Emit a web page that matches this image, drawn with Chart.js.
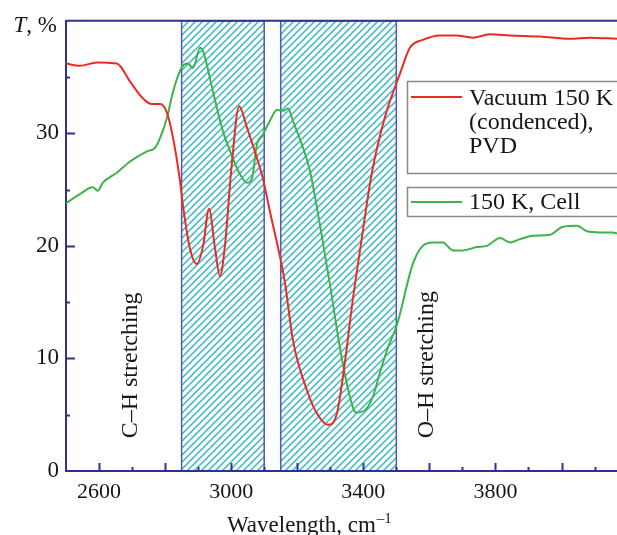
<!DOCTYPE html>
<html><head><meta charset="utf-8">
<script src="https://cdn.jsdelivr.net/npm/chart.js@4/dist/chart.umd.min.js"></script>
<style>html,body{margin:0;padding:0;background:#fff;overflow:hidden}#wrap{width:617px;height:535px;position:relative}</style>
</head><body><div id="wrap"><canvas id="c" width="617" height="535"></canvas></div>
<script>
// ---- data ----
const vacuumWn = [2500,2542,2594,2654,2694,2733,2760,2785,2806,2824,2845,2854,2875,2896,2915,2933,2951,2966,2981,3002,3024,3048,3078,3096,3117,3148,3163,3187,3229,3260,3293,3320,3344,3369,3390,3426,3466,3511,3541,3580,3632,3680,3732,3783,3844,3935,4025,4086,4168];
const vacuumT  = [36.2,36.0,36.3,36.2,34.6,33.1,32.6,32.6,31.8,29.6,25.8,23.6,19.8,18.4,20.0,23.3,19.8,17.3,20.0,27.3,32.4,30.5,27.8,26.0,23.1,19.0,16.7,11.6,7.2,5.1,4.1,5.1,9.6,15.4,19.6,26.5,31.5,35.3,37.6,38.3,38.7,38.7,38.5,38.8,38.7,38.6,38.4,38.5,38.4];
const cellWn = [2500,2542,2581,2596,2611,2654,2694,2745,2769,2785,2806,2824,2851,2869,2884,2906,2915,2945,2975,3005,3026,3048,3063,3078,3096,3117,3139,3157,3172,3187,3238,3272,3302,3329,3353,3378,3405,3429,3450,3475,3502,3550,3580,3611,3641,3671,3702,3744,3774,3814,3844,3874,3913,3965,4004,4047,4077,4116,4155,4168];
const cellT  = [23.8,24.6,25.2,24.9,25.6,26.5,27.5,28.4,28.7,29.6,31.4,33.7,35.9,36.2,35.8,37.6,37.3,33.7,30.2,27.8,26.4,25.6,26.0,29.0,29.9,31.1,32.1,32.0,32.2,31.1,26.7,21.3,16.0,11.0,7.4,5.2,5.4,6.6,8.7,11.0,13.0,18.4,20.0,20.3,20.3,19.6,19.6,19.9,20.0,20.7,20.3,20.6,20.9,21.0,21.7,21.8,21.3,21.2,21.2,21.1];
const seriesLabels = [['Vacuum 150 K','(condenced),','PVD'], ['150 K, Cell']];
const bands = [[2850,3100],[3150,3500]];
const bandLabels = ['C\u2013H stretching','O\u2013H stretching'];
const bandLabelWn = [2715, 3611];
const bandLabelT = 2.9;
const xLabelTicks = [2600,3000,3400,3800];
const yLabelTicks = [0,10,20,30];
const xRange = [2500, 4168];
const yRange = [0, 40];

// ---- styles ----
const AX = '#2e3192';
const RED = '#ec2a24';
const GREEN = '#3cb44a';
const HATCH = '#36b9c6';
const SERIF = "'Liberation Serif','Times New Roman',serif";
const TXT = '#161616';

function makePattern(ctx){
  const s = 7;
  const c = document.createElement('canvas');
  c.width = s; c.height = s;
  const g = c.getContext('2d');
  g.strokeStyle = HATCH; g.lineWidth = 1.5;
  g.beginPath();
  g.moveTo(-1, 1); g.lineTo(1, -1);
  g.moveTo(0, s); g.lineTo(s, 0);
  g.moveTo(s-1, s+1); g.lineTo(s+1, s-1);
  g.stroke();
  return ctx.createPattern(c, 'repeat');
}

const decor = {
  id: 'decor',
  beforeDraw(chart){
    const {ctx, chartArea: a, scales: {x}} = chart;
    const pat = makePattern(ctx);
    ctx.save();
    bands.forEach(([b0,b1]) => {
      const x0 = x.getPixelForValue(b0), x1 = x.getPixelForValue(b1);
      ctx.fillStyle = pat;
      ctx.fillRect(x0, a.top, x1-x0, a.bottom-a.top);
      ctx.strokeStyle = '#5656b4'; ctx.lineWidth = 1.5;
      ctx.strokeRect(x0, a.top, x1-x0, a.bottom-a.top);
    });
    ctx.restore();
  },
  afterDatasetsDraw(chart){
    const {ctx, chartArea: a, scales: {x, y}} = chart;
    ctx.save();
    // top frame line
    ctx.strokeStyle = AX; ctx.lineWidth = 2;
    ctx.beginPath(); ctx.moveTo(a.left, a.top); ctx.lineTo(a.right+2, a.top); ctx.stroke();
    // inner tick marks
    ctx.beginPath();
    x.ticks.forEach(t => {
      const v = t.value; if (v <= xRange[0] || v >= xRange[1]) return;
      const px = Math.round(x.getPixelForValue(v)) + 0.5;
      const len = (v % 200 === 0) ? 8 : 4;
      ctx.moveTo(px, a.bottom); ctx.lineTo(px, a.bottom - len);
    });
    y.ticks.forEach(t => {
      const v = t.value; if (v <= yRange[0] || v >= yRange[1]) return;
      const py = Math.round(y.getPixelForValue(v)) + 0.5;
      const len = (v % 10 === 0) ? 9 : 4;
      ctx.moveTo(a.left, py); ctx.lineTo(a.left + len, py);
    });
    ctx.stroke();

    // band labels (vertical)
    ctx.fillStyle = TXT;
    ctx.font = '24px ' + SERIF;
    ctx.textAlign = 'left'; ctx.textBaseline = 'alphabetic';
    bandLabels.forEach((s, i) => {
      ctx.save();
      ctx.translate(x.getPixelForValue(bandLabelWn[i]), y.getPixelForValue(bandLabelT));
      ctx.rotate(-Math.PI/2);
      ctx.fillText(s, 0, 0);
      ctx.restore();
    });

    // legend boxes
    const colors = [RED, GREEN];
    const boxes = [{top:81, h:92, line:97, base:[105,129,153]}, {top:187, h:29, line:202, base:[209]}];
    boxes.forEach((b, i) => {
      ctx.strokeStyle = '#8a8a8a'; ctx.lineWidth = 1.5;
      ctx.strokeRect(407.5, b.top + 0.5, 260, b.h);
      ctx.strokeStyle = colors[i]; ctx.lineWidth = 2;
      ctx.beginPath(); ctx.moveTo(411, b.line); ctx.lineTo(462, b.line); ctx.stroke();
      ctx.fillStyle = TXT; ctx.font = '24px ' + SERIF;
      seriesLabels[i].forEach((s, k) => ctx.fillText(s, 469, b.base[k]));
    });

    // axis title with superscript
    ctx.font = '23px ' + SERIF;
    const t1 = 'Wavelength, cm';
    ctx.fillText(t1, 227, 532);
    const w1 = ctx.measureText(t1).width;
    ctx.font = '15px ' + SERIF;
    ctx.fillText('\u20131', 227 + w1 + 1, 523);

    // y unit label
    ctx.textAlign = 'left';
    ctx.font = 'italic 23px ' + SERIF;
    const tw = ctx.measureText('T').width;
    ctx.font = '23px ' + SERIF;
    const rw = ctx.measureText(', %').width;
    const sx = 57 - tw - rw;
    ctx.font = 'italic 23px ' + SERIF;
    ctx.fillText('T', sx, 32);
    ctx.font = '23px ' + SERIF;
    ctx.fillText(', %', sx + tw, 32);
    ctx.restore();
  }
};

Chart.defaults.font.family = SERIF;
Chart.defaults.font.size = 22;
Chart.defaults.color = TXT;

new Chart(document.getElementById('c'), {
  type: 'line',
  data: {
    datasets: [
      { label: seriesLabels[0].join(' '), data: vacuumWn.map((v,i)=>({x:v, y:vacuumT[i]})),
        borderColor: RED, borderWidth: 2, pointRadius: 0, cubicInterpolationMode: 'monotone', fill: false },
      { label: seriesLabels[1].join(' '), data: cellWn.map((v,i)=>({x:v, y:cellT[i]})),
        borderColor: GREEN, borderWidth: 2, pointRadius: 0, cubicInterpolationMode: 'monotone', fill: false }
    ]
  },
  options: {
    responsive: false, animation: false, devicePixelRatio: 1,
    layout: { padding: { top: 19, left: 0, right: 0, bottom: 0 } },
    plugins: { legend: { display: false }, tooltip: { enabled: false } },
    scales: {
      x: {
        type: 'linear', min: xRange[0], max: xRange[1],
        grid: { display: false, drawTicks: false },
        border: { display: true, color: AX, width: 2 },
        ticks: { stepSize: 100, autoSkip: false, maxRotation: 0, includeBounds: false, padding: 8,
          callback: v => xLabelTicks.includes(v) ? String(v) : '' },
        afterFit: s => { s.height = 64; }
      },
      y: {
        min: yRange[0], max: yRange[1],
        grid: { display: false, drawTicks: false },
        border: { display: true, color: AX, width: 2 },
        ticks: { stepSize: 5, autoSkip: false, padding: 7,
          font: { size: 23 },
          callback: v => yLabelTicks.includes(v) ? String(v) : '' },
        afterFit: s => { s.width = 66; }
      }
    }
  },
  plugins: [decor]
});
</script>
</body></html>
